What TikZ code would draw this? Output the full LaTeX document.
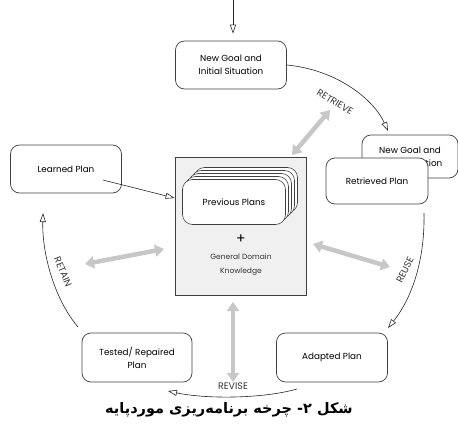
\documentclass[tikz,border=0pt]{standalone}
\usepackage{fontspec}
\setmainfont{Poppins}
\newfontfamily\arabicfont[Script=Arabic]{DejaVu Sans}
\TeXXeTstate=1
\usetikzlibrary{arrows.meta}
\definecolor{edge}{gray}{0.25}
\definecolor{kbfill}{gray}{0.94}
\definecolor{linkgray}{gray}{0.78}
\tikzset{
  plan/.style={draw=edge, fill=white, rounded corners=9pt, line width=0.7pt,
    align=center, font=\fontsize{8.8}{13}\selectfont, inner sep=0pt},
  card/.style={draw=edge, fill=white, rounded corners=10pt, line width=0.6pt,
    minimum width=103pt, minimum height=45pt, inner sep=0pt},
  cyc/.style={draw=black!85, line width=0.6pt,
    -{Triangle[open, length=9pt, width=6pt]}},
  link/.style={draw=linkgray, line width=4.5pt,
    {Triangle[length=9pt, width=12pt]}-{Triangle[length=9pt, width=12pt]}},
  lbl/.style={font=\fontsize{9.5}{10}\selectfont, text=black!80, inner sep=0pt}
}
\begin{document}
\begin{tikzpicture}[x=1pt, y=-1pt]
\useasboundingbox (0,0) rectangle (458,428);

% knowledge base
\node[draw=edge, fill=kbfill, line width=0.8pt, minimum width=131pt,
      minimum height=138pt] (kb) at (240.5,226) {};

% stack of previous plans
\foreach \i in {4,3,2,1} {
  \node[card] (card\i) at (234+3*\i, 202-3*\i) {};
}
\node[card, font=\fontsize{8.8}{10}\selectfont] (prev) at (234,202) {Previous Plans};
\node[font=\fontsize{14}{14}\selectfont] (plus) at (241,239) {+};
\node[align=center, font=\fontsize{7.5}{14}\selectfont, text=black!80] (gdk)
  at (241,265) {General Domain\\Knowledge};

% case nodes
\node[plan, minimum width=111pt, minimum height=48pt] (goal) at (231,65)
  {New Goal and\\Initial Situation};
\node[plan, minimum width=111pt, minimum height=48pt] (learn) at (66,169)
  {Learned Plan};
\node[plan, minimum width=96pt, minimum height=43pt] (goal2) at (410,156.5)
  {New Goal and\\Initial Situation};
\node[plan, minimum width=102pt, minimum height=46pt] (retr) at (377,181)
  {Retrieved Plan};
\node[plan, minimum width=111pt, minimum height=49pt] (adapt) at (332,357.5)
  {Adapted Plan};
\node[plan, minimum width=110pt, minimum height=49pt] (test) at (137,357.5)
  {Tested/ Repaired\\Plan};

% incoming problem
\coordinate (src) at (233,0);
\draw[cyc] (src) -- ([xshift=2pt, yshift=7pt]goal.north);

% the four phases of the cycle
\coordinate (rtEnd) at (388,131);
\coordinate (usStart) at (424,213);
\coordinate (usEnd) at (388,328);
\coordinate (rvStart) at (297,389);
\coordinate (rvEnd) at (168,391);
\coordinate (raStart) at (78,327);
\coordinate (raEnd) at (43,213);
\draw[cyc] (goal.east) .. controls (338,70) and (374,100) .. (rtEnd);
\draw[cyc] (usStart) .. controls (425,260) and (412,298) .. (usEnd);
\draw[cyc] (rvStart) .. controls (262,399) and (205,399) .. (rvEnd);
\draw[cyc] (raStart) .. controls (55,300) and (42,255) .. (raEnd);

\node[lbl, rotate=-31] (lretrieve) at (335,102) {RETRIEVE};
\node[lbl, rotate=64] (lreuse) at (405,270) {REUSE};
\node[lbl] (lrevise) at (233,386) {REVISE};
\node[lbl, rotate=-67] (lretain) at (63,272) {RETAIN};

% learned plan stored back
\coordinate (lpFrom) at (103,180);
\draw[cyc] (lpFrom) -- (kb.west |- 0,198);

% exchanges with the knowledge base
\coordinate (kbNE) at (292,155);
\coordinate (goalSE) at (330,110);
\coordinate (kbE) at (313,244);
\coordinate (adaptN) at (390,267);
\coordinate (kbW) at (164,249);
\coordinate (testN) at (85,264);
\coordinate (kbS) at (233,302);
\coordinate (bottomN) at (233,382);
\draw[link] (kbNE) -- (goalSE);
\draw[link] (kbE) -- (adaptN);
\draw[link] (kbW) -- (testN);
\draw[link] (kbS) -- (bottomN);

% caption
\node[font=\arabicfont\bfseries\fontsize{14.5}{16}\selectfont] (caption) at (229,410)
  {\beginR شکل ۲- چرخه برنامه‌ریزی موردپایه\endR};
\end{tikzpicture}
\end{document}
